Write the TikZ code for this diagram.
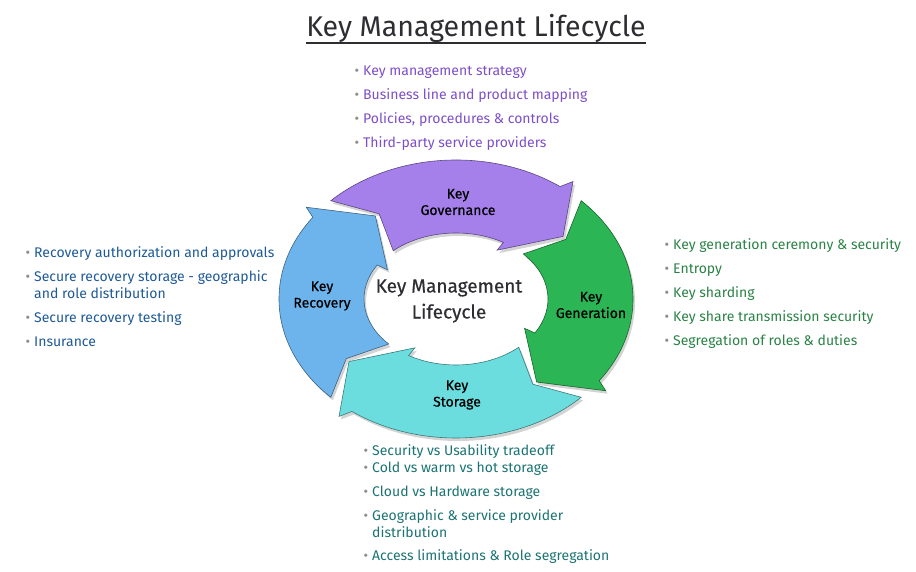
\documentclass[tikz,border=0pt]{standalone}
\usepackage{fontspec}
\setmainfont{Fira Sans}
\usetikzlibrary{shadows}
\definecolor{govpurple}{RGB}{166,128,234}
\definecolor{gengreen}{RGB}{44,181,84}
\definecolor{storteal}{RGB}{108,221,222}
\definecolor{recblue}{RGB}{110,180,236}
\definecolor{govtext}{RGB}{125,78,200}
\definecolor{gentext}{RGB}{42,130,70}
\definecolor{stortext}{RGB}{28,115,115}
\definecolor{rectext}{RGB}{30,90,150}
\definecolor{titlegray}{RGB}{45,45,50}
\definecolor{dotgray}{RGB}{140,140,140}

% one ring segment: colour, tail angle, tip angle
\newcommand{\keyseg}[3]{%
  \filldraw[fill=#1, draw=#1!55!black, line width=0.6pt,
    drop shadow={shadow xshift=2pt,shadow yshift=-3pt,opacity=0.35}]
    ({177*cos(#2)},{139*sin(#2)})
    arc[start angle=#2, end angle=#3+17, x radius=177pt, y radius=139pt]
    -- ({190*cos(#3+15)},{149*sin(#3+15)})
    -- ({134*cos(#3)},{104*sin(#3)})
    -- ({80*cos(#3+22)},{57*sin(#3+22)})
    -- ({92*cos(#3+22)},{66*sin(#3+22)})
    arc[start angle=#3+22, end angle=#2-2, x radius=92pt, y radius=66pt]
    -- ({134*cos(#2-10)},{104*sin(#2-10)}) -- cycle;}
\newcommand{\bul}{\llap{{\color{dotgray}\textbullet}\hspace{4pt}}}

\tikzset{
  item/.style={anchor=base west, inner sep=0pt, align=left,
    font=\fontsize{14}{17}\selectfont},
  seglabel/.style={align=center, text=black,
    font=\fontsize{14}{16.5}\selectfont\addfontfeatures{FakeBold=0.6}}
}

\begin{document}
\begin{tikzpicture}[x=1pt,y=1pt]
  \useasboundingbox (0,0) rectangle (916,572);

  % title
  \node[anchor=base, inner sep=0pt, font=\fontsize{28.5}{30}\selectfont, text=titlegray]
    (title) at (476,535) {Key Management Lifecycle};
  \draw[titlegray, line width=1.4pt] ([yshift=-6pt]title.base west) -- ([yshift=-6pt]title.base east);

  % the ring
  \begin{scope}[shift={(456,273)}]
    \keyseg{govpurple}{135}{37}
    \keyseg{gengreen}{45}{-53}
    \keyseg{storteal}{-45}{-143}
    \keyseg{recblue}{225}{127}
  \end{scope}

  \node[seglabel] (gov) at (458,370) {Key\\Governance};
  \node[seglabel] (gen) at (591,267) {Key\\Generation};
  \node[seglabel] (stor) at (457,177) {Key\\Storage};
  \node[seglabel] (rec) at (322,276) {Key\\Recovery};
  \node[align=center, text=titlegray,
    font=\fontsize{19}{26}\selectfont\addfontfeatures{FakeBold=0.4}] (hub) at (449,271)
    {Key Management\\Lifecycle};

  % bullet lists
  \foreach \txt [count=\i] in {Key management strategy, Business line and product mapping,
      {Policies, procedures \& controls}, Third-party service providers}
    \node[item, text=govtext] (govitem\i) at (363,{520-24*\i}) {\bul\txt};

  \foreach \txt [count=\i] in {Key generation ceremony \& security, Entropy, Key sharding,
      Key share transmission security, Segregation of roles \& duties}
    \node[item, text=gentext] (genitem\i) at (673,{346-24*\i}) {\bul\txt};

  \foreach \txt/\yy [count=\i] in {Security vs Usability tradeoff/116, Cold vs warm vs hot storage/99,
      Cloud vs Hardware storage/75, {Geographic \& service provider\\distribution}/34,
      Access limitations \& Role segregation/11}
    \node[item, text=stortext] (storitem\i) at (372,\yy) {\bul\txt};

  \foreach \txt/\yy [count=\i] in {Recovery authorization and approvals/314,
      {Secure recovery storage - geographic\\and role distribution}/273,
      Secure recovery testing/249, Insurance/225}
    \node[item, text=rectext] (recitem\i) at (34,\yy) {\bul\txt};
\end{tikzpicture}
\end{document}
